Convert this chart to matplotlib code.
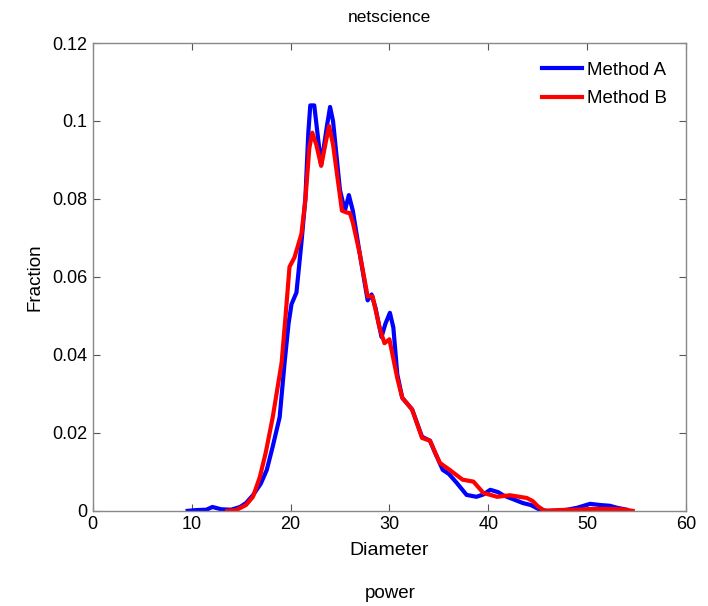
import matplotlib
matplotlib.use("Agg")
import matplotlib.pyplot as plt

plt.rcParams['font.family'] = ['Liberation Sans', 'DejaVu Sans']

title = "netscience"
xlabel = "Diameter"
ylabel = "Fraction"
bottom_text = "power"
series_names = ["Method A", "Method B"]

a_x = [9.6, 10.5, 11.5, 12.1, 13.0, 14.0, 14.9, 15.5, 16.2, 17.0, 17.6, 18.2, 18.9, 19.4,
       19.8, 20.1, 20.6, 21.1, 21.5, 21.8, 22.0, 22.4, 23.1, 23.7, 24.0, 24.3, 25.0, 25.5,
       25.9, 26.3, 27.0, 27.8, 28.2, 28.6, 29.2, 29.6, 30.05, 30.4, 30.8, 31.3, 32.3, 33.3,
       34.1, 34.6, 35.4, 36.0, 36.8, 37.8, 38.8, 39.5, 40.2, 41.0, 41.5, 42.5, 43.5, 44.3,
       45.2, 46.0, 47.0, 48.0, 49.0, 50.3, 51.3, 52.3, 53.0, 54.0]
a_y = [0.0, 0.0002, 0.0003, 0.001, 0.0004, 0.0003, 0.001, 0.002, 0.004, 0.007, 0.0105, 0.0165,
       0.024, 0.038, 0.048, 0.053, 0.056, 0.0687, 0.080, 0.097, 0.104, 0.104, 0.0887, 0.099,
       0.1036, 0.100, 0.0823, 0.077, 0.081, 0.077, 0.066, 0.054, 0.0555, 0.052, 0.0446, 0.048,
       0.0508, 0.047, 0.035, 0.029, 0.026, 0.019, 0.018, 0.015, 0.0105, 0.0095, 0.0072, 0.0041,
       0.0036, 0.0042, 0.0054, 0.0048, 0.004, 0.003, 0.002, 0.0015, 0.0003, 0.0, 0.0, 0.0003,
       0.0008, 0.0018, 0.0015, 0.0013, 0.0008, 0.0003]

b_x = [13.6, 14.5, 15.5, 16.2, 16.9, 17.5, 18.2, 19.1, 19.5, 19.9, 20.4, 21.1, 21.5, 21.9,
       22.2, 22.6, 23.1, 23.6, 23.9, 24.3, 25.2, 25.7, 26.0, 26.3, 27.0, 27.8, 28.3, 29.0,
       29.5, 30.0, 30.8, 31.3, 32.3, 33.3, 34.1, 35.1, 36.1, 37.4, 38.5, 39.5, 40.9, 42.2,
       43.9, 44.5, 45.0, 45.7, 47.0, 49.0, 50.5, 52.0, 53.5, 54.6]
b_y = [0.0, 0.0002, 0.0015, 0.0036, 0.0087, 0.015, 0.024, 0.038, 0.050, 0.0626, 0.065, 0.071,
       0.0797, 0.093, 0.097, 0.094, 0.0885, 0.095, 0.0987, 0.094, 0.077, 0.0765, 0.0764, 0.074,
       0.066, 0.055, 0.055, 0.047, 0.043, 0.044, 0.034, 0.029, 0.026, 0.0187, 0.018, 0.0123,
       0.0105, 0.008, 0.0075, 0.0046, 0.0036, 0.004, 0.0033, 0.0025, 0.0012, 0.0, 0.0002,
       0.0003, 0.0005, 0.0005, 0.0004, 0.0]

xticks = [0, 10, 20, 30, 40, 50, 60]
yticks = [0, 0.02, 0.04, 0.06, 0.08, 0.1, 0.12]
yticklabels = ["0", "0.02", "0.04", "0.06", "0.08", "0.1", "0.12"]

fig = plt.figure(figsize=(7.08, 6.06), dpi=100)
ax = fig.add_axes([0.131, 0.157, 0.838, 0.772])

ax.plot(a_x, a_y, color=(0, 0, 1), lw=3, label=series_names[0], solid_joinstyle='round')
ax.plot(b_x, b_y, color=(1, 0, 0), lw=3, label=series_names[1], solid_joinstyle='round')

ax.set_xlim(0, 60)
ax.set_ylim(0, 0.12)
ax.set_xticks(xticks)
ax.set_yticks(yticks)
ax.set_yticklabels(yticklabels)
ax.tick_params(direction='in', length=5, width=0.8, top=True, right=True,
               labelsize=13, color='#555555', pad=4)
for s in ax.spines.values():
    s.set_color('#888888')
    s.set_linewidth(1.0)

ax.set_title(title, fontsize=12.5, pad=15)
ax.set_xlabel(xlabel, fontsize=14, labelpad=6)
ax.set_ylabel(ylabel, fontsize=13.5, labelpad=6)

leg = ax.legend(loc='upper right', fontsize=13.5, handlelength=2.1, handletextpad=0.3,
                frameon=True, fancybox=False, borderaxespad=0.6, labelspacing=0.6,
                borderpad=0.4)
leg.get_frame().set_edgecolor('white')
leg.get_frame().set_linewidth(0)

fig.text(0.551, 0.006, bottom_text, ha='center', va='bottom', fontsize=13.5)

fig.savefig("out.png", dpi=100)
